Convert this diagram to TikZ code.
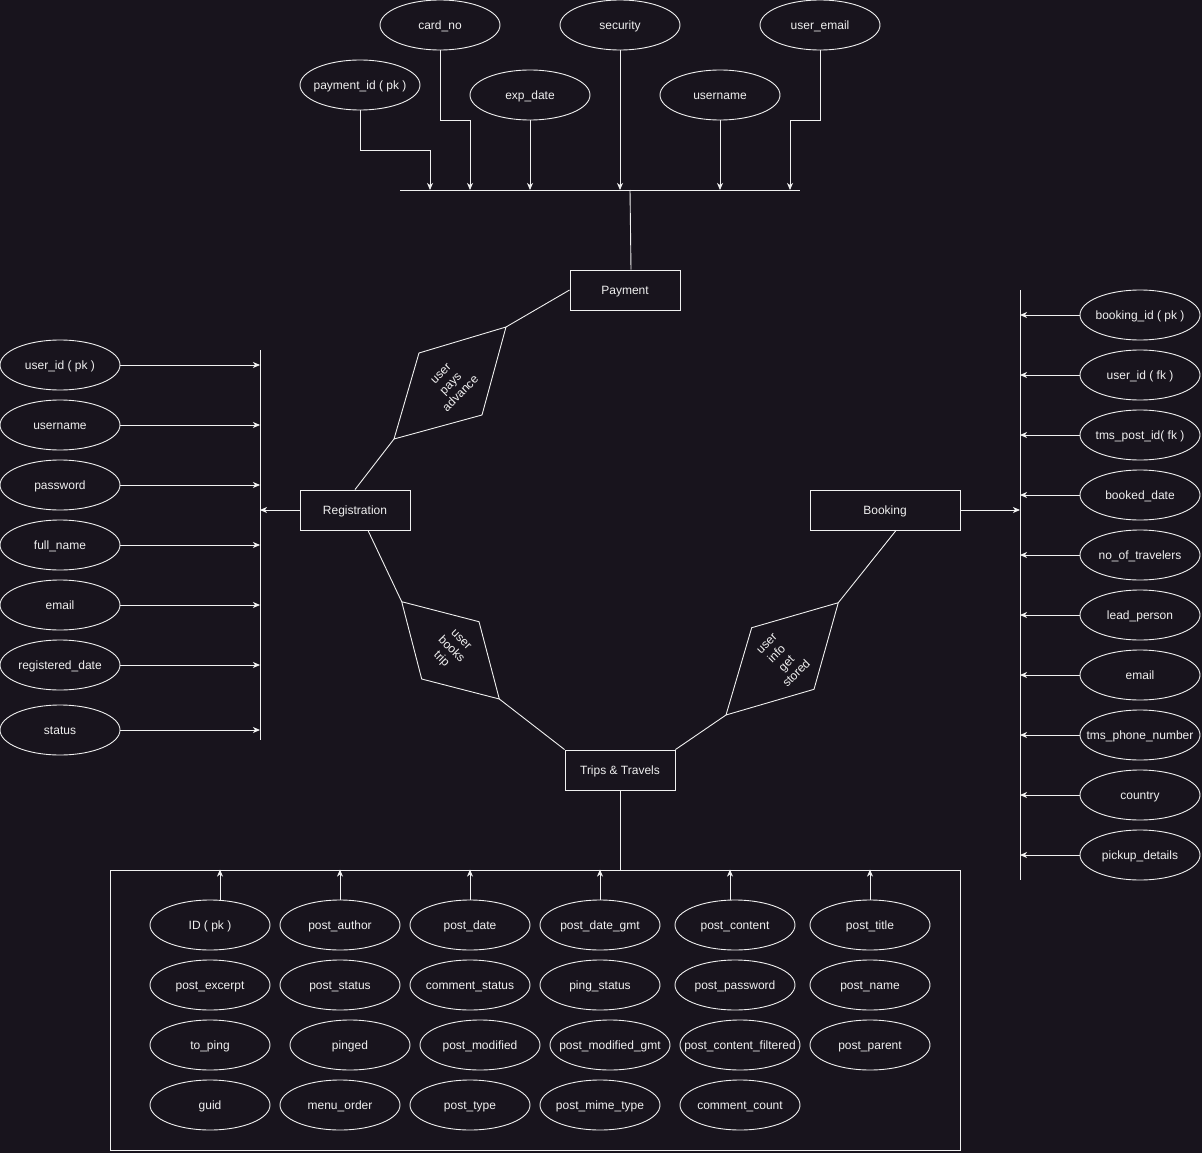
\documentclass[tikz,border=0pt]{standalone}
\usepackage{fontspec}
\setmainfont{Liberation Sans}
\usetikzlibrary{shapes.geometric,arrows.meta,calc}
\definecolor{bg}{HTML}{18141D}
\definecolor{ink}{HTML}{F0F0F0}
% attribute ellipse: name, position, text
\newcommand\erattr[3]{\node[attr,label={[lbl]center:{#3}}] (#1) at (#2) {};}
\begin{document}
\begin{tikzpicture}[x=1pt,y=-1pt,
  every node/.style={font=\fontsize{12}{14}\selectfont, text=ink},
  lbl/.style={text height=10.5pt, text depth=1.5pt, inner sep=0pt},
  attr/.style={ellipse, draw=ink, line width=0.9pt, minimum width=120pt, minimum height=50pt, inner sep=0pt},
  ent/.style={rectangle, draw=ink, line width=0.9pt, minimum height=40pt, inner sep=0pt, text height=10.5pt, text depth=1.5pt},
  link/.style={draw=ink, line width=0.9pt},
  arr/.style={link, -{Stealth[length=7pt,width=6pt,inset=2pt]}},
  reltext/.style={align=center, inner sep=0pt}
]
\fill[bg,use as bounding box] (0,0) rectangle (1202,1153);

% ---------- entities ----------
\node[ent, minimum width=110pt] (pay)   at (625,290) {Payment};
\node[ent, minimum width=110pt] (reg)   at (355,510) {Registration};
\node[ent, minimum width=150pt] (book)  at (885,510) {Booking};
\node[ent, minimum width=110pt] (trips) at (620,770) {Trips \& Travels};

% ---------- payment attributes ----------
\erattr{pid}{360,85}{payment\_id ( pk )}
\erattr{card}{440,25}{card\_no}
\erattr{exp}{530,95}{exp\_date}
\erattr{sec}{620,25}{security}
\erattr{puser}{720,95}{username}
\erattr{pmail}{820,25}{user\_email}

\coordinate (busL) at (400,190);
\coordinate (busR) at (800,190);
\coordinate (bus)  at (630,190);
\draw[link] (busL) -- (busR);
\draw[arr] (pid.south) -- ++(0,40) -| (430,190);
\draw[arr] (card.south) -- ++(0,70) -| (470,190);
\draw[arr] (exp.south) -- (exp.south |- busL);
\draw[arr] (sec.south) -- (sec.south |- busL);
\draw[arr] (puser.south) -- (puser.south |- busL);
\draw[arr] (pmail.south) -- ++(0,70) -| (790,190);
\draw[link] (bus) -- ([xshift=6pt]pay.north);

% ---------- relationships ----------
\coordinate (d1a) at (506,327);
\coordinate (d1b) at (419,353);
\coordinate (d1c) at (394,439);
\coordinate (d1d) at (482,415);
\draw[link] (d1a) -- (d1b) -- (d1c) -- (d1d) -- cycle;
\node[reltext, rotate=45] (r1) at (451,384) {user\\pays\\advance};

\coordinate (d2a) at (401.7,601.7);
\coordinate (d2b) at (479,621.7);
\coordinate (d2c) at (499.3,699);
\coordinate (d2d) at (421.7,679);
\draw[link] (d2a) -- (d2b) -- (d2c) -- (d2d) -- cycle;
\node[reltext, rotate=-45] (r2) at (450.5,650.4) {user\\books\\trip};

\coordinate (d3a) at (838.3,602.7);
\coordinate (d3b) at (751.7,627.7);
\coordinate (d3c) at (726,715);
\coordinate (d3d) at (814,689.3);
\draw[link] (d3a) -- (d3b) -- (d3c) -- (d3d) -- cycle;
\node[reltext, rotate=45] (r3) at (782,659) {user\\info\\get\\stored};

\draw[link] (pay.west) -- (d1a);
\draw[link] (d1c) -- (reg.north);
\draw[link] ([xshift=13pt]reg.south) -- (d2a);
\draw[link] (d2c) -- (trips.north west);
\draw[link] ([xshift=11pt]book.south) -- (d3a);
\draw[link] (d3c) -- (trips.north east);

% ---------- registration attributes ----------
\coordinate (regT) at (260,350);
\coordinate (regB) at (260,740);
\draw[link] (regT) -- (regB);
\erattr{r1a}{60,365}{user\_id ( pk )}
\erattr{r2a}{60,425}{username}
\erattr{r3a}{60,485}{password}
\erattr{r4a}{60,545}{full\_name}
\erattr{r5a}{60,605}{email}
\erattr{r6a}{60,665}{registered\_date}
\erattr{r7a}{60,730}{status}
\foreach \n in {r1a,r2a,r3a,r4a,r5a,r6a,r7a}
  \draw[arr] (\n.east) -- (\n.east -| regT);
\draw[arr] (reg.west) -- (reg.west -| regT);

% ---------- booking attributes ----------
\coordinate (bkT) at (1020,290);
\coordinate (bkB) at (1020,880);
\draw[link] (bkT) -- (bkB);
\erattr{b1}{1140,315}{booking\_id ( pk )}
\erattr{b2}{1140,375}{user\_id ( fk )}
\erattr{b3}{1140,435}{tms\_post\_id( fk )}
\erattr{b4}{1140,495}{booked\_date}
\erattr{b5}{1140,555}{no\_of\_travelers}
\erattr{b6}{1140,615}{lead\_person}
\erattr{b7}{1140,675}{email}
\erattr{b8}{1140,735}{tms\_phone\_number}
\erattr{b9}{1140,795}{country}
\erattr{b10}{1140,855}{pickup\_details}
\foreach \n in {b1,b2,b3,b4,b5,b6,b7,b8,b9,b10}
  \draw[arr] (\n.west) -- (\n.west -| bkT);
\draw[arr] (book.east) -- (book.east -| bkT);

% ---------- trips & travels attributes ----------
\node[draw=ink, line width=0.9pt, minimum width=850pt, minimum height=280pt, inner sep=0pt] (posts) at (535,1010) {};
\draw[link] (trips.south) -- (trips.south |- posts.north);

\erattr{t11}{210,925}{ID ( pk )}
\erattr{t12}{340,925}{post\_author}
\erattr{t13}{470,925}{post\_date}
\erattr{t14}{600,925}{post\_date\_gmt}
\erattr{t15}{735,925}{post\_content}
\erattr{t16}{870,925}{post\_title}

\erattr{t21}{210,985}{post\_excerpt}
\erattr{t22}{340,985}{post\_status}
\erattr{t23}{470,985}{comment\_status}
\erattr{t24}{600,985}{ping\_status}
\erattr{t25}{735,985}{post\_password}
\erattr{t26}{870,985}{post\_name}

\erattr{t31}{210,1045}{to\_ping}
\erattr{t32}{350,1045}{pinged}
\erattr{t33}{480,1045}{post\_modified}
\erattr{t34}{610,1045}{post\_modified\_gmt}
\erattr{t35}{740,1045}{post\_content\_filtered}
\erattr{t36}{870,1045}{post\_parent}

\erattr{t41}{210,1105}{guid}
\erattr{t42}{340,1105}{menu\_order}
\erattr{t43}{470,1105}{post\_type}
\erattr{t44}{600,1105}{post\_mime\_type}
\erattr{t45}{740,1105}{comment\_count}

\draw[arr] ([xshift=10pt]t11.north) -- ([xshift=10pt]t11.north |- posts.north);
\draw[arr] (t12.north) -- (t12.north |- posts.north);
\draw[arr] (t13.north) -- (t13.north |- posts.north);
\draw[arr] (t14.north) -- (t14.north |- posts.north);
\draw[arr] ([xshift=-5pt]t15.north) -- ([xshift=-5pt]t15.north |- posts.north);
\draw[arr] (t16.north) -- (t16.north |- posts.north);
\end{tikzpicture}
\end{document}
